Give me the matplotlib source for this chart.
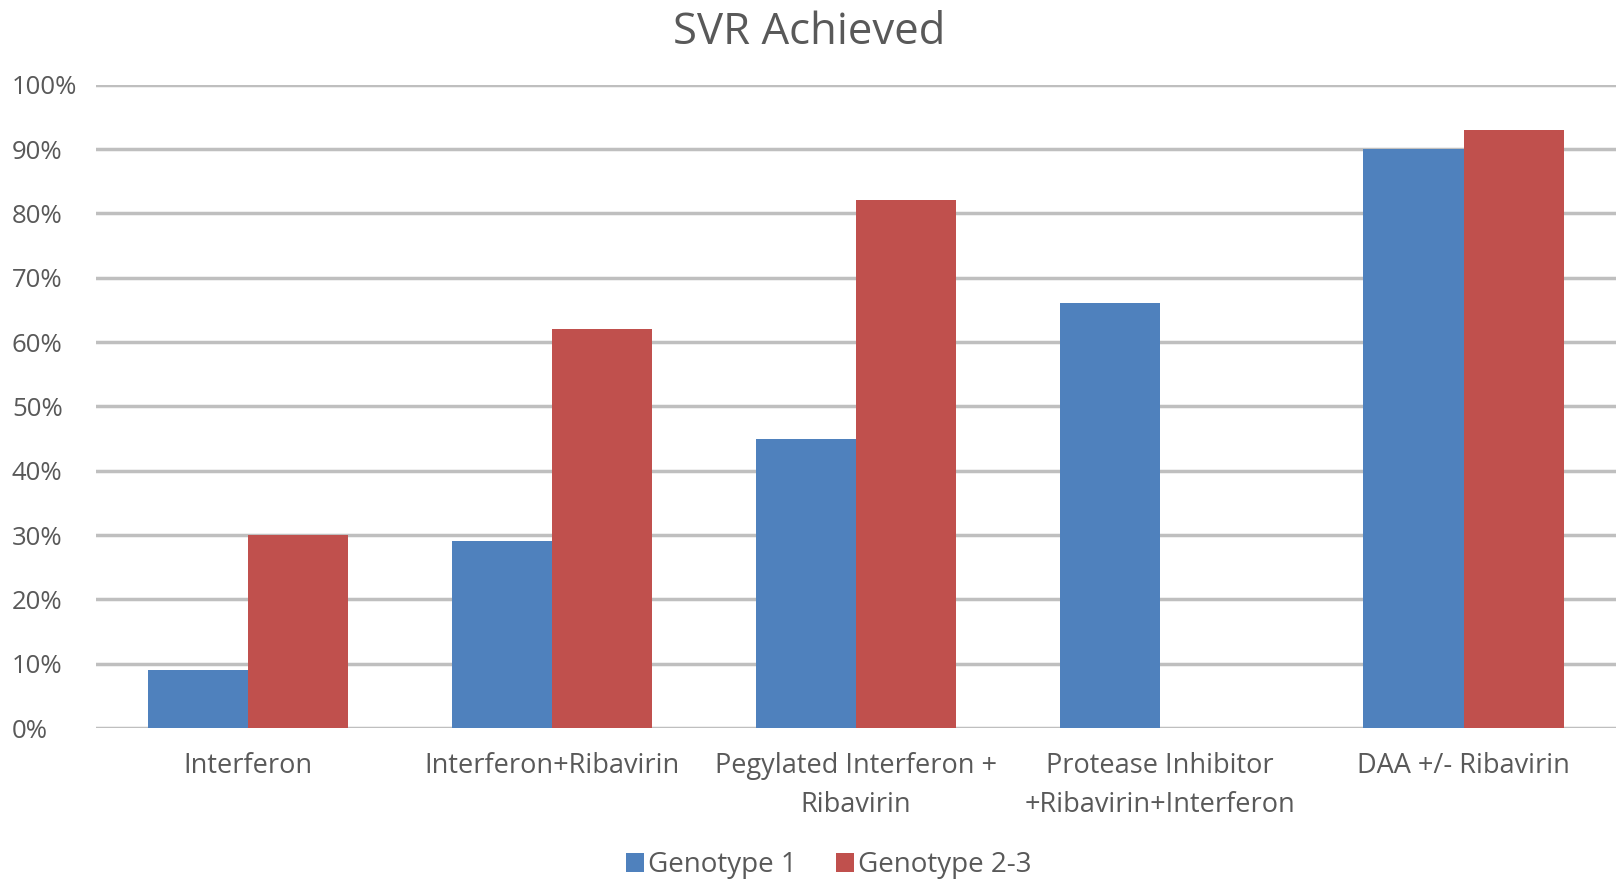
import matplotlib
matplotlib.use("Agg")
import matplotlib.pyplot as plt
import numpy as np
from matplotlib.ticker import PercentFormatter

categories = ["Interferon", "Interferon+Ribavirin", "Pegylated Interferon +\nRibavirin",
              "Protease Inhibitor\n+Ribavirin+Interferon", "DAA +/- Ribavirin"]
genotype1 = [9, 29, 45, 66, 90]
genotype23 = [30, 62, 82, np.nan, 93]
series_names = ["Genotype 1", "Genotype 2-3"]
yticks = [0, 10, 20, 30, 40, 50, 60, 70, 80, 90, 100]

plt.rcParams['font.family'] = ['Open Sans', 'DejaVu Sans']
text_color = "#595959"

fig = plt.figure(figsize=(16.19, 8.82), dpi=100)
ax = fig.add_axes([0.0593, 0.1746, 0.9387, 0.7294])

x = np.arange(len(categories))
w = 0.33
ax.bar(x - w/2, genotype1, width=w, color="#4F81BD", label=series_names[0], zorder=3)
ax.bar(x + w/2, genotype23, width=w, color="#C0504D", label=series_names[1], zorder=3)

ax.set_xlim(-0.5, len(categories) - 0.5)
ax.set_ylim(0, 100)
ax.set_yticks(yticks)
ax.yaxis.set_major_formatter(PercentFormatter(decimals=0))
ax.grid(axis='y', color="#BFBFBF", linewidth=2.5, zorder=0)
ax.set_axisbelow(True)
for s in ax.spines.values():
    s.set_visible(False)
ax.tick_params(axis='both', length=0, colors=text_color)
ax.tick_params(axis='y', pad=60.5, labelsize=18.5)
ax.tick_params(axis='x', pad=17, labelsize=19.5)
ax.set_xticks(x)
ax.set_xticklabels(categories, linespacing=1.55)
for lbl in ax.get_yticklabels():
    lbl.set_horizontalalignment('left')

fig.text(0.5, 0.963, "SVR Achieved", ha='center', va='center', fontsize=31.5, color=text_color)

leg = fig.legend(loc='center', bbox_to_anchor=(0.512, 0.019), ncol=2, frameon=False,
                 fontsize=20, handlelength=0.65, handleheight=0.65, handletextpad=0.15,
                 columnspacing=1.4, labelcolor=text_color)

fig.savefig("out.png", dpi=100)
